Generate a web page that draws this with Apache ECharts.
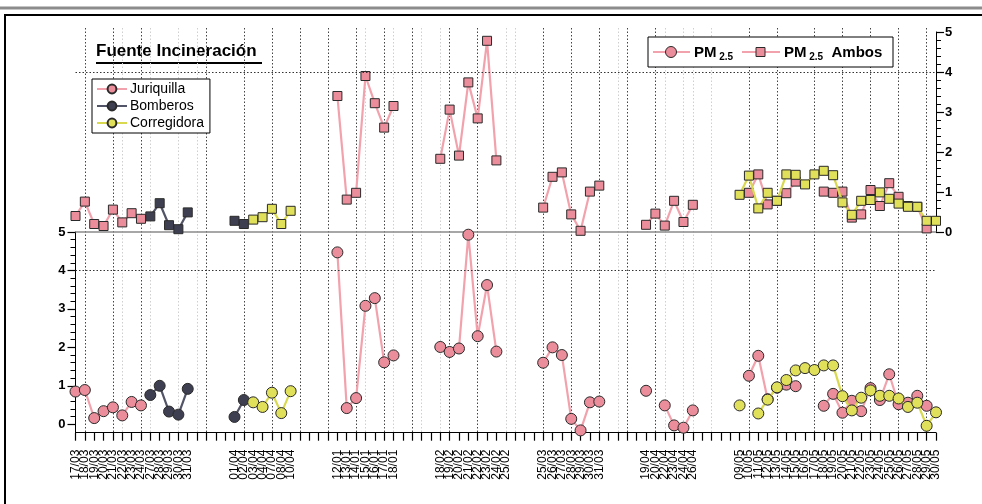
<!DOCTYPE html>
<html>
<head>
<meta charset="utf-8">
<script src="https://cdn.jsdelivr.net/npm/echarts@6/dist/echarts.min.js"></script>
<style>
  html, body { margin: 0; padding: 0; background: #fff; }
  #chart { width: 982px; height: 504px; }
</style>
</head>
<body>
<div id="chart"></div>
<script>
// Sampling days, one category slot each; empty strings are spacer slots between campaigns
const dates = [
  '17/03','18/03','19/03','20/03','21/03','22/03','23/03','24/03','27/03','28/03','29/03','30/03','31/03',
  '','','','',
  '01/04','02/04','03/04','04/04','07/04','08/04','10/04',
  '','','','',
  '12/01','13/01','14/01','15/01','16/01','17/01','18/01',
  '','','','',
  '18/02','19/02','20/02','21/02','22/02','23/02','24/02','25/02',
  '','','',
  '25/03','26/03','27/03','28/03','29/03','30/03','31/03',
  '','','','',
  '19/04','20/04','22/04','23/04','24/04','26/04',
  '','','','',
  '09/05','10/05','11/05','12/05','13/05','14/05','15/05','16/05','17/05','18/05','19/05',
  '20/05','21/05','22/05','23/05','24/05','25/05','26/05','27/05','28/05','29/05','30/05'
];

// PM 2.5 Ambos (upper panel, right axis)
const juriquillaAmbos = [
  0.40,0.76,0.20,0.15,0.56,0.24,0.47,0.33,null,null,null,null,null,
  null,null,null,null,
  null,null,null,null,null,null,null,
  null,null,null,null,
  3.40,0.81,0.98,3.90,3.22,2.61,3.15,
  null,null,null,null,
  1.83,3.06,1.91,3.74,2.84,4.78,1.79,null,
  null,null,null,
  0.61,1.38,1.49,0.44,0.03,1.01,1.16,
  null,null,null,null,
  0.18,0.46,0.16,0.78,0.25,0.68,
  null,null,null,null,
  null,0.98,1.44,0.69,0.78,0.97,1.26,null,null,1.01,0.98,
  1.01,0.36,0.44,1.05,0.65,1.22,0.88,0.65,0.63,0.09,null
];
const bomberosAmbos = [
  null,null,null,null,null,null,null,null,0.39,0.72,0.17,0.07,0.49,
  null,null,null,null,
  0.28,0.20,null,null,null,null,null,
  null,null,null,null,
  null,null,null,null,null,null,null,
  null,null,null,null,
  null,null,null,null,null,null,null,null,
  null,null,null,
  null,null,null,null,null,null,null,
  null,null,null,null,
  null,null,null,null,null,null,
  null,null,null,null,
  null,null,null,null,null,null,null,null,null,null,null,
  null,null,null,null,null,null,null,null,null,null,null
];
const corregidoraAmbos = [
  null,null,null,null,null,null,null,null,null,null,null,null,null,
  null,null,null,null,
  null,null,0.31,0.37,0.58,0.20,0.53,
  null,null,null,null,
  null,null,null,null,null,null,null,
  null,null,null,null,
  null,null,null,null,null,null,null,null,
  null,null,null,
  null,null,null,null,null,null,null,
  null,null,null,null,
  null,null,null,null,null,null,
  null,null,null,null,
  0.93,1.41,0.59,0.98,0.78,1.44,1.43,1.19,1.44,1.53,1.42,
  0.74,0.43,0.78,0.80,0.99,0.83,0.71,0.63,0.63,0.28,0.28
];

// PM 2.5 (lower panel, left axis)
const juriquilla = [
  0.85,0.89,0.16,0.34,0.44,0.23,0.58,0.49,null,null,null,null,null,
  null,null,null,null,
  null,null,null,null,null,null,null,
  null,null,null,null,
  4.47,0.42,0.68,3.08,3.28,1.61,1.79,
  null,null,null,null,
  2.01,1.88,1.97,4.93,2.29,3.62,1.89,null,
  null,null,null,
  1.60,2.00,1.80,0.14,-0.16,0.57,0.59,
  null,null,null,null,
  0.87,null,0.49,-0.03,-0.09,0.36,
  null,null,null,null,
  null,1.26,1.78,0.65,0.95,1.03,0.99,null,null,0.48,0.79,
  0.30,0.61,0.34,0.94,0.63,1.30,0.52,0.56,0.74,0.48,null
];
const bomberos = [
  null,null,null,null,null,null,null,null,0.76,1.00,0.33,0.25,0.92,
  null,null,null,null,
  0.19,0.63,null,null,null,null,null,
  null,null,null,null,
  null,null,null,null,null,null,null,
  null,null,null,null,
  null,null,null,null,null,null,null,null,
  null,null,null,
  null,null,null,null,null,null,null,
  null,null,null,null,
  null,null,null,null,null,null,
  null,null,null,null,
  null,null,null,null,null,null,null,null,null,null,null,
  null,null,null,null,null,null,null,null,null,null,null
];
const corregidora = [
  null,null,null,null,null,null,null,null,null,null,null,null,null,
  null,null,null,null,
  null,null,0.57,0.45,0.82,0.29,0.86,
  null,null,null,null,
  null,null,null,null,null,null,null,
  null,null,null,null,
  null,null,null,null,null,null,null,null,
  null,null,null,
  null,null,null,null,null,null,null,
  null,null,null,null,
  null,null,null,null,null,null,
  null,null,null,null,
  0.49,null,0.28,0.64,0.96,1.15,1.40,1.46,1.41,1.53,1.53,
  0.73,0.36,0.69,0.88,0.74,0.74,0.67,0.45,0.56,-0.04,0.31
];

// Value-axis tick labels
const yTickLabels = [0, 1, 2, 3, 4, 5];

// Slots carrying vertical dotted guides
const darkGuideSlots = [1,4,7,14,18,21,24,27,30,33,36,40,43,50,53,56,59,62,72,75,79,82,85,88,91];
const lightGuideSlots = [5,8,11,13,31,34,37,39,46,47,58,63,65,66,68];

const FONT = "'Liberation Sans', Arial, sans-serif";
const GRID_LEFT = 75.5, GRID_RIGHT = 46;

const pink = { fill: '#EC8D9B', line: '#F2A2AD' };
const slate = { fill: '#3E4052', line: '#525467' };
const lime = { fill: '#E0E05A', line: '#D9D950' };
const edge = '#2a2a2a';

const minorTicks = [];
for (let k = 0; k <= 25; k++) if (k % 5) minorTicks.push(k / 5);

function lineSeries(name, data, colors, symbol, size, xi, yi, z) {
  return {
    name, type: 'line', data, xAxisIndex: xi, yAxisIndex: yi,
    symbol, symbolSize: size, showSymbol: true, showAllSymbol: true, connectNulls: false,
    clip: false, z,
    lineStyle: { color: colors.line, width: 2.2 },
    itemStyle: { color: colors.fill, borderColor: edge, borderWidth: 1, opacity: 1 },
    emphasis: { disabled: true }
  };
}

function refLine(v) {
  return {
    silent: true, symbol: 'none', animation: false,
    label: { show: false },
    lineStyle: { color: '#333', type: [1.5, 2], width: 1 },
    data: [{ yAxis: v }]
  };
}

const hiddenAxisParts = {
  axisLine: { show: false }, axisTick: { show: false }, axisLabel: { show: false }
};

const option = {
  animation: false,
  backgroundColor: '#fff',
  textStyle: { fontFamily: FONT },
  grid: [
    { left: GRID_LEFT, right: GRID_RIGHT, top: 32, height: 200 },
    { left: GRID_LEFT, right: GRID_RIGHT, top: 232, bottom: 71.3 },
    { left: GRID_LEFT, right: GRID_RIGHT, top: 28, bottom: 71.3 }
  ],
  xAxis: [
    { gridIndex: 0, type: 'category', data: dates, boundaryGap: false,
      axisLine: { show: true, lineStyle: { color: '#8a8a8a', width: 1.5 } },
      axisTick: { show: false }, axisLabel: { show: false }, splitLine: { show: false } },
    { gridIndex: 1, type: 'category', data: dates, boundaryGap: false,
      axisLine: { show: true, onZero: false, lineStyle: { color: '#000', width: 1 } },
      axisTick: { show: true, interval: 0, length: 8, lineStyle: { color: '#000', width: 1.2 } },
      axisLabel: { show: true, interval: 0, rotate: 90, fontSize: 12, color: '#000', margin: 17, fontFamily: FONT },
      splitLine: { show: false } },
    { gridIndex: 2, type: 'category', data: dates, boundaryGap: false, ...hiddenAxisParts,
      splitLine: { show: true, interval: (i) => darkGuideSlots.includes(i),
        lineStyle: { color: '#444', type: [1.5, 2], width: 1 } } },
    { gridIndex: 2, type: 'category', data: dates, boundaryGap: false, ...hiddenAxisParts,
      splitLine: { show: true, interval: (i) => lightGuideSlots.includes(i),
        lineStyle: { color: '#cfcfcf', type: [1.5, 2], width: 1 } } }
  ],
  yAxis: [
    { gridIndex: 0, type: 'value', position: 'right', min: 0, max: 5, interval: 1,
      axisLine: { show: true, lineStyle: { color: '#000', width: 1 } },
      axisTick: { show: true, length: 8, lineStyle: { color: '#000', width: 1.2 } },
      minorTick: { show: true, splitNumber: 5, length: 5, lineStyle: { color: '#000', width: 1 } },
      axisLabel: { color: '#000', fontWeight: 'bold', fontSize: 13, margin: 9, fontFamily: FONT },
      splitLine: { show: false } },
    { gridIndex: 1, type: 'value', position: 'left', min: -0.22, max: 5,
      axisLine: { show: true, lineStyle: { color: '#000', width: 1 } },
      axisTick: { show: true, length: 8, customValues: yTickLabels, lineStyle: { color: '#000', width: 1.2 } },
      axisLabel: { show: true, customValues: yTickLabels, color: '#000', fontWeight: 'bold', fontSize: 13, margin: 10, fontFamily: FONT },
      splitLine: { show: false } },
    { gridIndex: 1, type: 'value', position: 'left', min: -0.22, max: 5,
      axisLine: { show: false },
      axisTick: { show: true, length: 5, customValues: minorTicks, lineStyle: { color: '#000', width: 1 } },
      axisLabel: { show: false }, splitLine: { show: false } },
    { gridIndex: 2, type: 'value', show: false, min: 0, max: 1 }
  ],
  legend: {
    data: ['Juriquilla', 'Bomberos', 'Corregidora'],
    orient: 'vertical', left: 92, top: 79,
    backgroundColor: '#fff', borderColor: '#000', borderWidth: 1,
    padding: [3, 6, 3, 4], itemGap: 3, itemWidth: 30, itemHeight: 11,
    selectedMode: false,
    textStyle: { fontSize: 14, color: '#000', fontFamily: FONT, padding: [0, 0, 0, -2] }
  },
  series: [
    Object.assign(lineSeries('Juriquilla Ambos', juriquillaAmbos, pink, 'rect', 9, 0, 0, 3), { markLine: refLine(4) }),
    lineSeries('Bomberos Ambos', bomberosAmbos, slate, 'rect', 9, 0, 0, 4),
    lineSeries('Corregidora Ambos', corregidoraAmbos, lime, 'rect', 9, 0, 0, 5),
    Object.assign(lineSeries('Juriquilla', juriquilla, pink, 'circle', 11, 1, 1, 3), { markLine: refLine(4) }),
    lineSeries('Bomberos', bomberos, slate, 'circle', 11, 1, 1, 4),
    lineSeries('Corregidora', corregidora, lime, 'circle', 11, 1, 1, 5)
  ],
  graphic: [
    // page frame
    { type: 'line', shape: { x1: 0, y1: 8, x2: 982, y2: 8 }, style: { stroke: '#8c8c8c', lineWidth: 3 }, silent: true },
    { type: 'polyline', shape: { points: [[5, 504], [5, 15], [982, 15]] }, style: { stroke: '#000', lineWidth: 2, fill: null }, silent: true },
    // heading
    { type: 'text', left: 96, top: 43, style: { text: 'Fuente Incineración', font: "bold 17px " + FONT, fill: '#000' }, silent: true },
    { type: 'line', shape: { x1: 96, y1: 63, x2: 262, y2: 63 }, style: { stroke: '#000', lineWidth: 2 }, silent: true },
    // instrument key
    { type: 'rect', shape: { x: 648, y: 37, width: 245, height: 30 }, style: { fill: '#fff', stroke: '#000', lineWidth: 1 }, silent: true, z: 10 },
    { type: 'line', shape: { x1: 653, y1: 52, x2: 690, y2: 52 }, style: { stroke: pink.line, lineWidth: 2 }, silent: true, z: 11 },
    { type: 'circle', shape: { cx: 671, cy: 52, r: 5.5 }, style: { fill: pink.fill, stroke: edge, lineWidth: 1 }, silent: true, z: 12 },
    { type: 'text', x: 694, y: 53, silent: true, z: 12,
      style: { text: '{a|PM}{b| 2.5}', verticalAlign: 'middle',
        rich: { a: { font: "bold 15px " + FONT, fill: '#000' }, b: { font: "bold 10px " + FONT, fill: '#000', padding: [9, 0, 0, 0] } } } },
    { type: 'line', shape: { x1: 742, y1: 52, x2: 780, y2: 52 }, style: { stroke: pink.line, lineWidth: 2 }, silent: true, z: 11 },
    { type: 'rect', shape: { x: 756, y: 47.5, width: 9, height: 9 }, style: { fill: pink.fill, stroke: edge, lineWidth: 1 }, silent: true, z: 12 },
    { type: 'text', x: 784, y: 53, silent: true, z: 12,
      style: { text: '{a|PM}{b| 2.5}{a|  Ambos}', verticalAlign: 'middle',
        rich: { a: { font: "bold 15px " + FONT, fill: '#000' }, b: { font: "bold 10px " + FONT, fill: '#000', padding: [9, 0, 0, 0] } } } }
  ]
};

const chart = echarts.init(document.getElementById('chart'), null, { renderer: 'canvas' });
chart.setOption(option);
</script>
</body>
</html>
